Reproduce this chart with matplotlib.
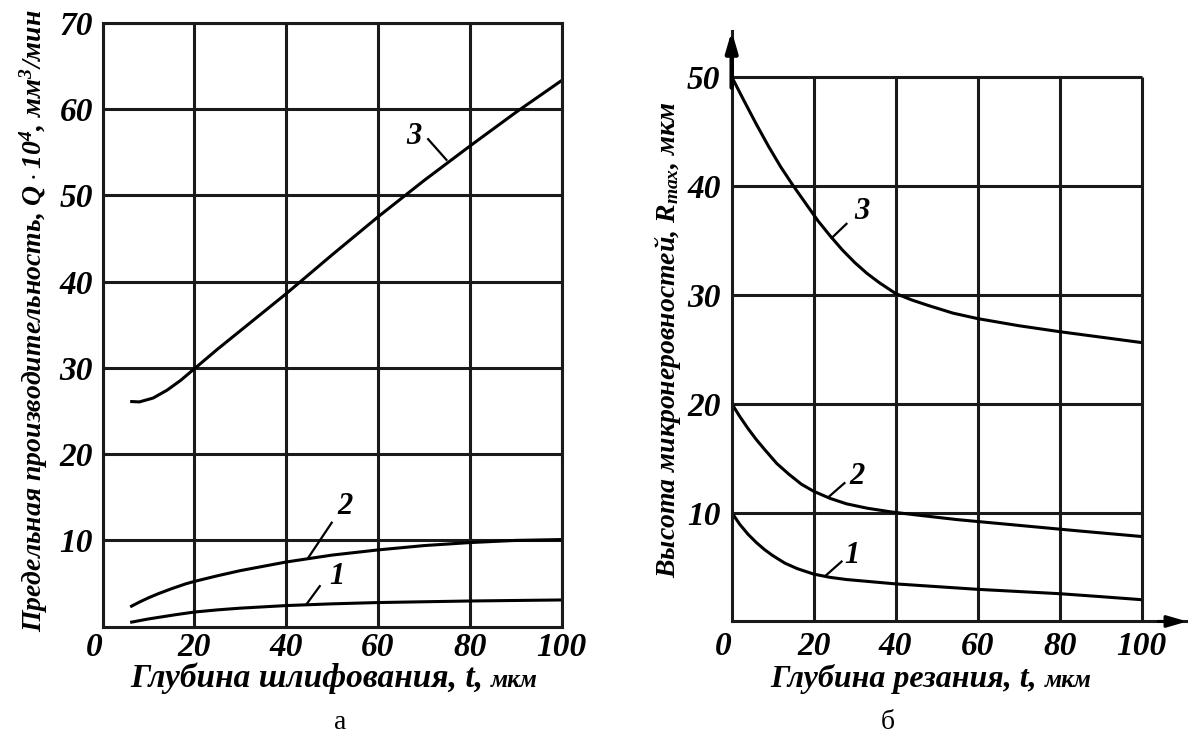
import numpy as np
import matplotlib
matplotlib.use("Agg")
import matplotlib.pyplot as plt

# two panels: а) limiting productivity, б) surface roughness
plt.rcParams['font.family'] = ['Liberation Serif', 'DejaVu Serif']
plt.rcParams['mathtext.fontset'] = 'custom'
plt.rcParams['mathtext.rm'] = 'Liberation Serif:bold:italic'
plt.rcParams['mathtext.it'] = 'Liberation Serif:bold:italic'
plt.rcParams['mathtext.bf'] = 'Liberation Serif:bold:italic'

# ---- panel а data ----
t_a3 = [6, 8, 11, 14, 17, 20, 25, 30, 40, 50, 60, 70, 80, 90, 100]
q_a3 = [26.1, 26.05, 26.5, 27.4, 28.55, 29.9, 32.15, 34.3, 38.6, 43.1, 47.5, 51.7, 55.7, 59.6, 63.3]
t_a2 = [6, 8, 10, 12, 15, 18, 20, 25, 30, 35, 40, 50, 60, 70, 80, 90, 100]
q_a2 = [2.3, 2.85, 3.35, 3.8, 4.4, 4.95, 5.25, 5.9, 6.5, 7.0, 7.5, 8.3, 8.9, 9.4, 9.75, 10.0, 10.1]
t_a1 = [6, 8, 10, 13, 16, 20, 25, 30, 40, 50, 60, 80, 100]
q_a1 = [0.5, 0.7, 0.9, 1.15, 1.4, 1.7, 1.95, 2.15, 2.45, 2.65, 2.8, 2.98, 3.1]

# ---- panel б data ----
t_b3 = [0, 3, 6, 9, 12, 15, 18, 21, 24, 27, 30, 33, 36, 40, 44, 48, 54, 60, 70, 80, 90, 100]
r_b3 = [50, 47.8, 45.65, 43.6, 41.7, 40.0, 38.4, 36.8, 35.4, 34.1, 32.95, 31.95, 31.1, 30.1,
        29.5, 29.0, 28.3, 27.8, 27.15, 26.6, 26.1, 25.6]
t_b2 = [0, 2, 4, 6, 8, 11, 14, 17, 20, 24, 28, 33, 39, 45, 55, 65, 75, 85, 100]
r_b2 = [20, 18.8, 17.7, 16.7, 15.8, 14.5, 13.5, 12.6, 11.95, 11.3, 10.8, 10.4, 10.05, 9.78,
        9.35, 9.0, 8.65, 8.3, 7.8]
t_b1 = [0, 2, 4, 6, 8, 10, 13, 16, 20, 24, 28, 34, 40, 50, 60, 70, 80, 90, 100]
r_b1 = [10, 8.9, 8.0, 7.25, 6.6, 6.05, 5.35, 4.85, 4.35, 4.05, 3.85, 3.65, 3.45, 3.2, 2.95,
        2.75, 2.55, 2.28, 2.0]

x_ticks = [0, 20, 40, 60, 80, 100]
y_ticks_a = [10, 20, 30, 40, 50, 60, 70]
y_ticks_b = [10, 20, 30, 40, 50]

# curve label: text pos, leader start, leader end
labels_a = [('3', (67.7, 56.8), (70.9, 56.5), (74.9, 54.1)),
            ('2', (52.8, 13.9), (49.9, 12.05), (44.8, 8.0)),
            ('1', (51.0, 5.8), (47.3, 4.7), (44.4, 2.6))]
labels_b = [('3', (31.7, 37.6), (28.0, 36.5), (24.4, 35.2)),
            ('2', (30.5, 13.3), (27.5, 12.7), (23.7, 11.45)),
            ('1', (29.3, 6.1), (26.8, 5.5), (22.9, 4.2))]

LW = 2.2
tick_font = dict(family='Liberation Serif', weight='bold', style='italic', size=24)
lab_font = dict(family=['Liberation Serif', 'DejaVu Serif'], weight='bold', style='italic')

fig = plt.figure(figsize=(11.88, 7.36), dpi=100)

# ================= panel а =================
ax1 = fig.add_axes([0.0864, 0.1485, 0.3864, 0.8207])
ax1.set_xlim(0, 100)
ax1.set_ylim(0, 70)
ax1.set_xticks(x_ticks)
ax1.set_yticks(y_ticks_a)
ax1.grid(True, color='#1a1a1a', lw=LW)
ax1.tick_params(length=0)
ax1.tick_params(axis='x', pad=3.5)
ax1.tick_params(axis='y', pad=7)
for s in ax1.spines.values():
    s.set_linewidth(LW)
    s.set_color('#1a1a1a')
ax1.set_xticklabels([str(v) for v in x_ticks], fontdict=tick_font)
ax1.set_yticklabels([str(v) for v in y_ticks_a], fontdict=tick_font)
ax1.get_xticklabels()[0].set_ha('right')

ax1.plot(t_a3, q_a3, color='k', lw=LW, solid_capstyle='butt')
ax1.plot(t_a2, q_a2, color='k', lw=LW, solid_capstyle='butt')
ax1.plot(t_a1, q_a1, color='k', lw=LW, solid_capstyle='butt')
for txt, pos, p0, p1 in labels_a:
    ax1.plot([p0[0], p1[0]], [p0[1], p1[1]], color='k', lw=1.6)
    ax1.text(pos[0], pos[1], txt, ha='center', va='center', size=22, **lab_font)

# ================= panel б =================
ax2 = fig.add_axes([0.6159, 0.1556, 0.3834, 0.8023])
ax2.set_xlim(0, 111.1)
ax2.set_ylim(0, 54.2)
ax2.set_xticks(x_ticks)
ax2.set_yticks(y_ticks_b)
ax2.tick_params(length=0)
ax2.tick_params(axis='x', pad=6.5)
ax2.tick_params(axis='y', pad=8)
ax2.spines['top'].set_visible(False)
ax2.spines['right'].set_visible(False)
for s in ['left', 'bottom']:
    ax2.spines[s].set_linewidth(LW)
    ax2.spines[s].set_color('#1a1a1a')
ax2.set_xticklabels([str(v) for v in x_ticks], fontdict=tick_font)
ax2.set_yticklabels([str(v) for v in y_ticks_b], fontdict=tick_font)
ax2.get_xticklabels()[0].set_ha('right')

ax2.vlines(x_ticks[1:], 0, y_ticks_b[-1], color='#1a1a1a', lw=LW)
ax2.hlines(y_ticks_b, 0, x_ticks[-1], color='#1a1a1a', lw=LW)

# axis arrows
ax2.annotate('', xy=(0, 54.2), xytext=(0, 49), xycoords='data',
             arrowprops=dict(arrowstyle='-|>,head_length=1.2,head_width=0.35',
                             lw=3.2, color='k', shrinkA=0, shrinkB=0),
             annotation_clip=False)
ax2.annotate('', xy=(111.1, 0), xytext=(104, 0), xycoords='data',
             arrowprops=dict(arrowstyle='-|>,head_length=1.2,head_width=0.35',
                             lw=2.2, color='k', shrinkA=0, shrinkB=0),
             annotation_clip=False)

ax2.plot(t_b3, r_b3, color='k', lw=LW, solid_capstyle='butt')
ax2.plot(t_b2, r_b2, color='k', lw=LW, solid_capstyle='butt')
ax2.plot(t_b1, r_b1, color='k', lw=LW, solid_capstyle='butt')
for txt, pos, p0, p1 in labels_b:
    ax2.plot([p0[0], p1[0]], [p0[1], p1[1]], color='k', lw=1.6)
    ax2.text(pos[0], pos[1], txt, ha='center', va='center', size=22, **lab_font)

# ================= axis titles =================
fig.text(0.028, 0.564, r'Предельная производительность, $Q\cdot10^4$, мм$^3$/мин',
         rotation=90, ha='center', va='center', size=20, **lab_font)
fig.text(0.562, 0.538, r'Высота микронеровностей, $R_{\mathrm{max}}$, мкм',
         rotation=90, ha='center', va='center', size=20, **lab_font)

xl1 = fig.text(0.1094, 0.066, 'Глубина шлифования, t, ', ha='left', va='baseline', size=24, **lab_font)
ax1.annotate('мкм', xy=(1, 0.08), xycoords=xl1, ha='left', va='bottom', size=18, **lab_font)

xl2 = fig.text(0.648, 0.066, 'Глубина резания, t, ', ha='left', va='baseline', size=23, **lab_font)
ax2.annotate('мкм', xy=(1, 0.08), xycoords=xl2, ha='left', va='bottom', size=18, **lab_font)

fig.text(0.286, 0.018, 'а', ha='center', va='center', size=20, family='Liberation Serif')
fig.text(0.747, 0.018, 'б', ha='center', va='center', size=20, family='Liberation Serif')

fig.savefig('out.png', dpi=100, facecolor='white')
